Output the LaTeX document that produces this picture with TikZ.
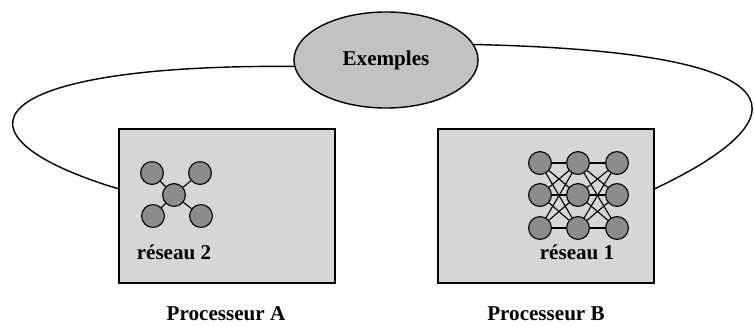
\documentclass[tikz,border=0pt]{standalone}
\usepackage{fontspec}
\setmainfont{Liberation Serif}
\usepackage{tikz}
\usetikzlibrary{shapes.geometric}
\definecolor{BoxGray}{HTML}{D6D6D6}
\definecolor{BlobGray}{HTML}{C2C2C2}
\definecolor{UnitGray}{HTML}{8C8C8C}

\begin{document}
\begin{tikzpicture}[x=0.025cm, y=-0.025cm,
  every node/.style={font=\bfseries\fontsize{15}{18}\selectfont},
  proc/.style={draw, line width=0.9pt, fill=BoxGray, minimum width=5.4cm, minimum height=3.85cm, inner sep=0pt},
  unit/.style={circle, draw, line width=0.8pt, fill=UnitGray, minimum size=0.57cm, inner sep=0pt},
  link/.style={line width=0.8pt},
  loop/.style={line width=1pt}]
  \useasboundingbox (0,0) rectangle (754,326);
  \node[ellipse, draw, line width=1pt, fill=BlobGray, minimum width=4.6cm, minimum height=2.4cm] (ex) at (386,60) {Exemples};
  \node[proc] (boxA) at (227,206) {};
  \node[proc] (boxB) at (546,206) {};
  % small network, processor A
  \node[unit] (hub) at (174,195) {};
  \node[unit] (a1) at (152,173) {};
  \node[unit] (a2) at (200,173) {};
  \node[unit] (a3) at (153,216) {};
  \node[unit] (a4) at (201,216) {};
  \foreach \n in {a1,a2,a3,a4} {\draw[link] (hub) -- (\n);}
  % 3x3 network, processor B
  \foreach \c/\x in {1/540,2/578,3/617} {
    \foreach \r/\y in {1/163,2/195,3/228} {\node[unit] (b\c\r) at (\x,\y) {};}
  }
  \foreach \r in {1,2,3} {
    \foreach \s in {1,2,3} {\draw[link] (b1\r) -- (b2\s); \draw[link] (b2\r) -- (b3\s);}
  }
  \node[anchor=base] (labA) at (174,260) {réseau 2};
  \node[anchor=base] (labB) at (577,260) {réseau 1};
  \node[anchor=base] (procA) at (226,320) {Processeur A};
  \node[anchor=base] (procB) at (546,320) {Processeur B};
  \draw[loop] (ex.184) .. controls (-20,64) and (-60,135) .. (boxA.171);
  \draw[loop] (ex.10) .. controls (815,52) and (800,120) .. (boxB.9);
\end{tikzpicture}
\end{document}
